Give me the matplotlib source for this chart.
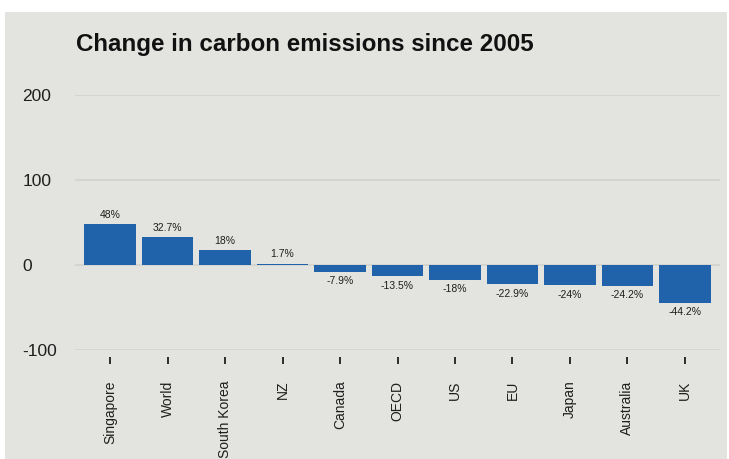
import matplotlib
matplotlib.use("Agg")
import matplotlib.pyplot as plt
from matplotlib.patches import Rectangle

countries = ["Singapore", "World", "South Korea", "NZ", "Canada", "OECD",
             "US", "EU", "Japan", "Australia", "UK"]
changes = [48, 32.7, 18, 1.7, -7.9, -13.5, -18, -22.9, -24, -24.2, -44.2]
yticks = [-100, 0, 100, 200]

panel = "#e3e3df"
bar_color = "#2063aa"
text_color = "#1e1e1e"

plt.rcParams["font.family"] = ["Liberation Sans", "DejaVu Sans"]
plt.rcParams["axes.unicode_minus"] = False

W, H = 729, 459
fig = plt.figure(figsize=(W / 100, H / 100), dpi=100)
fig.patch.set_facecolor("white")
fig.patches.append(Rectangle((5 / W, 0), 722 / W, 447 / H, transform=fig.transFigure,
                             facecolor=panel, edgecolor="none", zorder=-10))

ax = fig.add_axes([75 / W, 109 / H, 645 / W, 255 / H])
ax.set_facecolor("none")

x = range(len(countries))
ax.bar(x, changes, width=0.9, color=bar_color, zorder=3)

for i, v in enumerate(changes):
    label = f"{v:g}%"
    if v >= 0:
        ax.annotate(label, (i, v), xytext=(0, 3), textcoords="offset points",
                    ha="center", va="bottom", fontsize=7.5, color=text_color)
    else:
        ax.annotate(label, (i, v), xytext=(0, -3), textcoords="offset points",
                    ha="center", va="top", fontsize=7.5, color=text_color)

ax.set_xlim(-0.61, len(countries) - 1 + 0.61)
ax.set_ylim(-100, 200)
ax.set_yticks(yticks)
ax.yaxis.grid(True, color="#d2d2cd", linewidth=1.2, zorder=0)
ax.set_axisbelow(True)

for s in ax.spines.values():
    s.set_visible(False)
ax.spines["bottom"].set_position(("outward", 5))

ax.set_xticks(list(x))
ax.set_xticklabels(countries, rotation=90, fontsize=10, color=text_color, va="top")
ax.tick_params(axis="x", length=5, width=1.3, color=text_color, pad=12)
ax.tick_params(axis="y", length=0, pad=38, labelsize=12.5, labelcolor=text_color)
for lbl in ax.get_yticklabels():
    lbl.set_ha("left")

fig.text(76 / W, 1 - 45 / H, "Change in carbon emissions since 2005", fontsize=17.4,
         fontweight="bold", color="#111111", va="center", ha="left")

fig.savefig("out.png", dpi=100)
